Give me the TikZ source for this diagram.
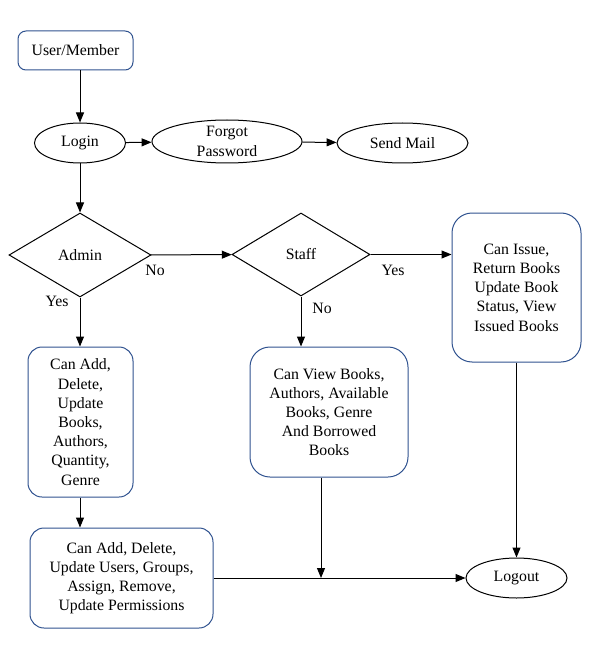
\documentclass[tikz,border=0pt]{standalone}
\usepackage{fontspec}
\setmainfont{Liberation Serif}
\usetikzlibrary{shapes.geometric,arrows.meta}
\definecolor{boxblue}{HTML}{2F528F}
\begin{document}
\begin{tikzpicture}[x=1pt,y=-1pt,
 font=\fontsize{15.8}{19.2}\selectfont,
 rbox/.style={draw=boxblue,line width=1pt,rounded corners=#1,align=center,inner sep=0pt},
 oval/.style={draw,ellipse,line width=1pt,inner sep=0pt,align=center},
 dmd/.style={draw,diamond,line width=1pt,inner sep=0pt},
 arr/.style={line width=1pt,-{Triangle[length=10pt,width=8pt]}},
 lbl/.style={inner sep=0pt}]
\useasboundingbox (0,0) rectangle (602,660);
\node[rbox=8pt,minimum width=115pt,minimum height=39pt] (user) at (75.5,50.5) {User/Member};
\node[oval,minimum width=91pt,minimum height=40pt] (login) at (80,143) {Login};
\node[oval,minimum width=150pt,minimum height=43pt] (forgot) at (227,141.5) {Forgot\\Password};
\node[oval,minimum width=131pt,minimum height=40pt] (send) at (402.5,143) {Send Mail};
\node[dmd,minimum width=142pt,minimum height=84pt] (admin) at (80,255) {Admin};
\node[dmd,minimum width=138pt,minimum height=83pt] (staff) at (301,254.5) {Staff};
\node[rbox=20pt,minimum width=129pt,minimum height=149pt] (issue) at (516.5,287.5) {Can Issue,\\Return Books\\Update Book\\Status, View\\Issued Books};
\node[rbox=14pt,minimum width=105pt,minimum height=150pt] (addbooks) at (80.5,422) {Can Add,\\Delete,\\Update\\Books,\\Authors,\\Quantity,\\Genre};
\node[rbox=20pt,minimum width=158pt,minimum height=130pt] (view) at (329,412) {Can View Books,\\Authors, Available\\Books, Genre\\And Borrowed\\Books};
\node[rbox=14pt,minimum width=183pt,minimum height=100pt] (users) at (121.5,578) {Can Add, Delete,\\Update Users, Groups,\\Assign, Remove,\\Update Permissions};
\node[oval,minimum width=101pt,minimum height=40pt] (logout) at (516.5,578) {Logout};
\node[lbl] (noA) at (155,270) {No};
\node[lbl] (yesA) at (57,301) {Yes};
\node[lbl] (yesS) at (393,270) {Yes};
\node[lbl] (noS) at (322,308) {No};
\coordinate (join) at (321,578);
\draw[arr] (user.south -| login.north) -- (login.north);
\draw[arr] (login) -- (forgot);
\draw[arr] (forgot) -- (send);
\draw[arr] (login) -- (admin);
\draw[arr] (admin) -- (staff);
\draw[arr] (staff.east) -- (staff.east -| issue.west);
\draw[arr] (admin.south) -- (admin.south |- addbooks.north);
\draw[arr] (staff.south) -- (staff.south |- view.north);
\draw[arr] (admin.south |- addbooks.south) -- (admin.south |- users.north);
\draw[arr] (users) -- (logout);
\draw[arr] (view.south -| join) -- (join);
\draw[arr] (issue.south -| logout.north) -- (logout.north);
\end{tikzpicture}
\end{document}
